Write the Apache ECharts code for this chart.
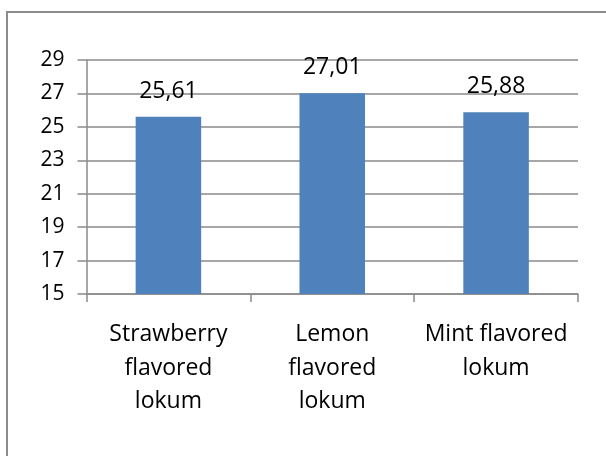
<!DOCTYPE html>
<html>
<head>
<meta charset="utf-8">
<script src="https://cdn.jsdelivr.net/npm/echarts@6/dist/echarts.min.js"></script>
<style>html,body{margin:0;padding:0;background:#fff}#c{width:606px;height:456px}</style>
</head>
<body>
<div id="c"></div>
<script>
const categories = ['Strawberry\nflavored\nlokum', 'Lemon\nflavored\nlokum', 'Mint flavored\nlokum'];
const values = [25.61, 27.01, 25.88];
const valueLabels = ['25,61', '27,01', '25,88'];
const yTicks = [15, 17, 19, 21, 23, 25, 27, 29];

const chart = echarts.init(document.getElementById('c'), null, {renderer: 'canvas'});
chart.setOption({
  animation: false,
  backgroundColor: '#fff',
  graphic: [{
    type: 'rect', shape: {x: 7, y: 12, width: 700, height: 600},
    style: {fill: 'none', stroke: '#8c8c8c', lineWidth: 2}, silent: true
  }],
  grid: {left: 86.5, right: 28, top: 60, bottom: 162},
  xAxis: {
    type: 'category',
    data: categories,
    axisLine: {lineStyle: {color: '#8a8a8a', width: 1.5}},
    axisTick: {show: true, length: 8, lineStyle: {color: '#8a8a8a', width: 1.5}},
    axisLabel: {color: '#000', fontFamily: 'Open Sans', fontSize: 23, lineHeight: 33.5, margin: 24, interval: 0}
  },
  yAxis: {
    type: 'value', min: yTicks[0], max: yTicks[yTicks.length - 1], interval: 2,
    axisLine: {show: true, lineStyle: {color: '#8a8a8a', width: 1.5}},
    axisTick: {show: true, length: 9, lineStyle: {color: '#8a8a8a', width: 1.5}},
    splitLine: {lineStyle: {color: '#8a8a8a', width: 1.5}},
    axisLabel: {color: '#000', fontFamily: 'Open Sans', fontSize: 21, margin: 22}
  },
  series: [{
    type: 'bar',
    data: values,
    barWidth: '40%',
    itemStyle: {color: '#4f81bd'},
    label: {
      show: true, position: 'top', distance: 14,
      color: '#000', fontFamily: 'Open Sans', fontSize: 23,
      formatter: p => valueLabels[p.dataIndex]
    }
  }]
});
</script>
</body>
</html>
